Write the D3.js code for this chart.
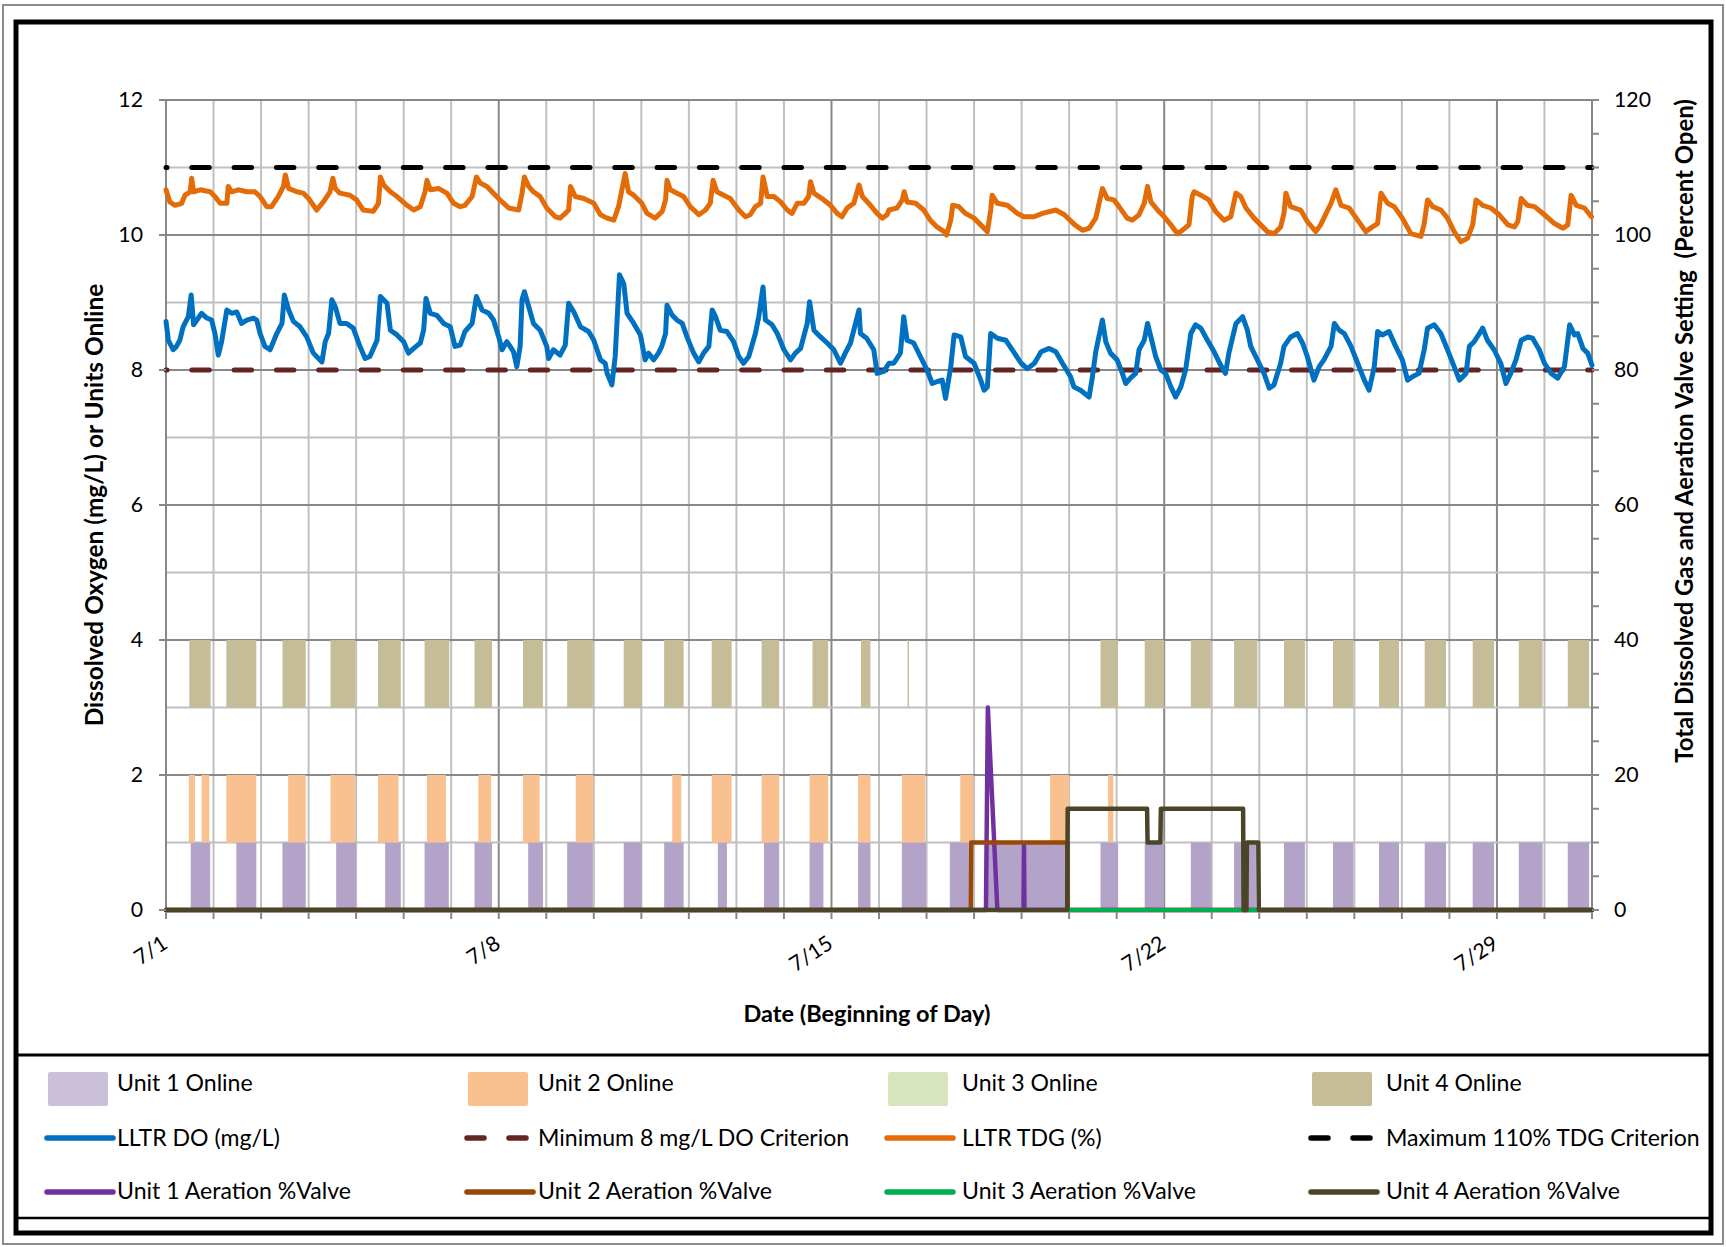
<!DOCTYPE html>
<html><head><meta charset="utf-8">
<script src="https://cdn.jsdelivr.net/npm/d3@7"></script>
<style>
body{margin:0;background:#fff;}
svg{display:block;}
text{font-family:Lato,'Open Sans',sans-serif;fill:#000;}
</style>
</head><body>
<svg id="chart" width="1726" height="1247"></svg>
<script>
// ---------------- DATA ----------------
const dateTickDays = [0, 7, 14, 21, 28];
const dateTickLabels = ["7/1", "7/8", "7/15", "7/22", "7/29"];
const leftTickValues = [0, 2, 4, 6, 8, 10, 12];
const rightTickValues = [0, 20, 40, 60, 80, 100, 120];

// online intervals [start day, end day] (days after 7/1 00:00)
const unit1Online = [[0.52,0.93],[1.48,1.90],[2.45,2.94],[3.58,4.00],[4.61,4.94],[5.44,5.95],[6.49,6.86],[7.62,7.93],[8.44,8.98],[9.63,10.01],[10.48,10.89],[11.61,11.80],[12.58,12.90],[13.54,13.83],[14.56,14.82],[15.48,15.99],[16.49,16.89],[17.24,18.96],[19.66,20.03],[20.59,21.00],[21.56,21.99],[22.47,22.93],[23.52,23.96],[24.55,24.98],[25.52,25.94],[26.48,26.93],[27.49,27.94],[28.46,28.96],[29.49,29.94]];
const unit2Online = [[0.48,0.61],[0.75,0.91],[1.27,1.90],[2.57,2.94],[3.46,3.98],[4.46,4.89],[5.49,5.89],[6.57,6.84],[7.51,7.86],[8.62,8.99],[10.65,10.84],[11.48,11.90],[12.53,12.90],[13.54,13.93],[14.56,14.82],[15.48,15.97],[16.71,16.98],[18.60,19.00],[19.82,19.93]];
const unit3Online = [];
const unit4Online = [[0.49,0.94],[1.27,1.90],[2.45,2.94],[3.46,3.98],[4.46,4.94],[5.44,5.96],[6.49,6.86],[7.51,7.93],[8.44,8.98],[9.63,10.01],[10.48,10.89],[11.48,11.90],[12.53,12.90],[13.60,13.93],[14.62,14.82],[15.60,15.63],[19.66,20.03],[20.59,21.00],[21.56,21.98],[22.47,22.96],[23.52,23.96],[24.55,24.98],[25.52,25.94],[26.48,26.93],[27.49,27.94],[28.46,28.96],[29.49,29.94]];

// LLTR DO (mg/L): [day, value]
const doSeries = [[0,8.72],[0.05,8.44],[0.15,8.30],[0.22,8.35],[0.29,8.44],[0.36,8.64],[0.47,8.79],[0.53,9.11],[0.58,8.67],[0.65,8.74],[0.75,8.84],[0.86,8.77],[0.96,8.74],[1.03,8.54],[1.10,8.22],[1.17,8.42],[1.28,8.89],[1.38,8.84],[1.49,8.86],[1.59,8.69],[1.70,8.74],[1.84,8.77],[1.91,8.74],[1.98,8.54],[2.08,8.35],[2.19,8.30],[2.33,8.54],[2.44,8.69],[2.49,9.11],[2.58,8.89],[2.68,8.72],[2.82,8.64],[2.96,8.49],[3.10,8.25],[3.28,8.12],[3.35,8.42],[3.42,8.54],[3.49,9.04],[3.56,8.94],[3.66,8.69],[3.80,8.69],[3.94,8.62],[4.08,8.35],[4.19,8.17],[4.29,8.20],[4.44,8.44],[4.51,9.09],[4.65,8.99],[4.72,8.59],[4.86,8.52],[5.00,8.42],[5.10,8.25],[5.21,8.32],[5.35,8.40],[5.42,8.59],[5.47,9.06],[5.56,8.84],[5.70,8.81],[5.84,8.69],[5.98,8.64],[6.08,8.35],[6.19,8.37],[6.29,8.57],[6.44,8.69],[6.53,9.09],[6.65,8.89],[6.79,8.84],[6.89,8.74],[7.00,8.49],[7.07,8.30],[7.17,8.42],[7.24,8.35],[7.31,8.27],[7.38,8.05],[7.45,8.35],[7.49,9.04],[7.54,9.16],[7.63,8.94],[7.73,8.69],[7.87,8.59],[8.01,8.35],[8.05,8.17],[8.15,8.30],[8.29,8.22],[8.40,8.37],[8.47,8.99],[8.58,8.86],[8.72,8.64],[8.89,8.57],[9.00,8.44],[9.14,8.15],[9.24,8.10],[9.28,7.95],[9.38,7.78],[9.45,8.20],[9.54,9.41],[9.63,9.28],[9.70,8.84],[9.84,8.69],[9.98,8.52],
[10.08,8.15],[10.15,8.25],[10.26,8.15],[10.36,8.25],[10.43,8.35],[10.51,8.54],[10.54,8.96],[10.65,8.81],[10.75,8.74],[10.86,8.69],[10.96,8.49],[11.10,8.25],[11.21,8.12],[11.31,8.25],[11.42,8.35],[11.49,8.89],[11.56,8.79],[11.66,8.59],[11.80,8.57],[11.94,8.42],[12.05,8.20],[12.15,8.10],[12.26,8.20],[12.40,8.54],[12.47,8.79],[12.56,9.23],[12.61,8.74],[12.75,8.67],[12.86,8.54],[13.00,8.30],[13.14,8.15],[13.24,8.25],[13.35,8.32],[13.49,8.69],[13.54,9.01],[13.63,8.59],[13.77,8.49],[13.91,8.40],[14.05,8.30],[14.19,8.10],[14.29,8.25],[14.40,8.40],[14.47,8.59],[14.58,8.89],[14.61,8.54],[14.74,8.47],[14.89,8.30],[14.96,7.95],[15.10,7.98],[15.21,8.10],[15.31,8.10],[15.45,8.25],[15.52,8.79],[15.59,8.44],[15.73,8.40],[15.87,8.20],[16.01,8.00],[16.12,7.80],[16.23,7.83],[16.33,7.85],[16.40,7.58],[16.51,8.05],[16.58,8.52],[16.72,8.49],[16.82,8.20],[17.00,8.10],[17.14,7.85],[17.21,7.70],[17.28,7.75],[17.35,8.54],[17.49,8.47],[17.67,8.44],[17.85,8.25],[17.99,8.10],[18.12,8.02],[18.27,8.10],[18.41,8.27],[18.58,8.32],[18.72,8.27],[18.86,8.10],[19.03,7.90],[19.10,7.75],[19.24,7.70],[19.42,7.60],[19.49,7.90],[19.56,8.27],[19.70,8.74],[19.77,8.42],[19.87,8.25],
[20.01,8.15],[20.12,7.95],[20.19,7.80],[20.29,7.88],[20.40,7.95],[20.47,8.30],[20.58,8.44],[20.65,8.69],[20.72,8.49],[20.82,8.20],[20.93,8.00],[21.03,7.95],[21.14,7.75],[21.24,7.60],[21.35,7.75],[21.45,8.00],[21.56,8.54],[21.66,8.67],[21.77,8.62],[21.91,8.44],[22.05,8.27],[22.19,8.07],[22.29,7.95],[22.36,8.25],[22.51,8.69],[22.65,8.79],[22.75,8.59],[22.82,8.35],[22.96,8.15],[23.10,7.95],[23.21,7.73],[23.31,7.78],[23.45,8.10],[23.52,8.35],[23.66,8.49],[23.80,8.54],[23.91,8.40],[24.01,8.20],[24.15,7.85],[24.26,8.05],[24.36,8.15],[24.51,8.35],[24.58,8.69],[24.68,8.59],[24.79,8.54],[24.93,8.35],[25.07,8.10],[25.21,7.85],[25.31,7.70],[25.42,8.05],[25.49,8.57],[25.59,8.52],[25.73,8.57],[25.87,8.35],[26.01,8.15],[26.12,7.85],[26.22,7.90],[26.36,7.95],[26.47,8.30],[26.54,8.62],[26.68,8.67],[26.82,8.54],[26.96,8.30],[27.10,8.05],[27.21,7.85],[27.35,7.95],[27.42,8.35],[27.52,8.42],[27.63,8.54],[27.70,8.62],[27.80,8.44],[27.94,8.30],[28.08,8.10],[28.19,7.80],[28.29,7.95],[28.40,8.15],[28.51,8.44],[28.65,8.49],[28.75,8.47],[28.89,8.30],[29.00,8.10],[29.14,7.95],[29.28,7.88],[29.42,8.05],[29.53,8.67],[29.63,8.52],[29.70,8.54],[29.81,8.32],[29.91,8.25],[30.0,8.07]];

// LLTR TDG (%): [day, value]
const tdgSeries = [[0,106.7],[0.08,104.9],[0.19,104.4],[0.33,104.7],[0.40,105.9],[0.51,106.4],[0.54,108.4],[0.58,106.4],[0.72,106.7],[0.93,106.4],[1.03,105.7],[1.14,104.7],[1.28,104.7],[1.31,107.2],[1.38,106.4],[1.52,106.7],[1.70,106.4],[1.87,106.4],[1.98,105.7],[2.12,104.2],[2.22,104.2],[2.36,105.7],[2.47,107.2],[2.51,108.9],[2.58,106.9],[2.75,106.4],[2.89,106.2],[3.00,105.4],[3.17,103.7],[3.31,104.9],[3.45,106.4],[3.51,108.4],[3.56,106.9],[3.66,106.2],[3.87,105.9],[4.01,105.2],[4.15,103.7],[4.36,103.5],[4.47,104.7],[4.51,108.6],[4.58,107.4],[4.72,106.4],[4.86,105.7],[5.07,104.4],[5.21,103.7],[5.35,104.2],[5.45,106.4],[5.49,108.1],[5.56,106.7],[5.73,106.9],[5.91,106.2],[6.05,104.7],[6.19,104.2],[6.29,104.4],[6.44,105.7],[6.53,108.6],[6.61,107.7],[6.75,107.2],[6.93,105.9],[7.07,104.9],[7.21,104.0],[7.42,103.7],[7.49,106.2],[7.54,108.6],[7.63,107.2],[7.73,106.4],[7.87,105.7],[8.01,104.0],[8.19,102.7],[8.29,102.5],[8.40,103.2],[8.47,103.7],[8.51,107.2],[8.61,105.7],[8.79,105.4],[9.00,104.7],[9.14,103.0],[9.28,102.5],[9.42,102.2],[9.52,104.2],[9.66,109.1],[9.73,106.4],[9.84,105.9],[10.01,104.7],
[10.12,103.2],[10.29,102.5],[10.44,103.5],[10.51,105.2],[10.54,108.1],[10.61,106.7],[10.75,106.2],[10.89,105.7],[11.03,104.2],[11.21,103.0],[11.35,103.7],[11.45,104.7],[11.51,108.1],[11.59,106.4],[11.73,105.9],[11.87,105.4],[12.05,103.7],[12.19,102.7],[12.29,103.0],[12.40,104.2],[12.51,104.7],[12.56,108.6],[12.65,105.7],[12.79,105.7],[12.93,104.9],[13.07,103.7],[13.17,103.2],[13.28,104.7],[13.42,104.7],[13.52,105.7],[13.56,107.9],[13.63,106.2],[13.80,105.4],[13.98,104.4],[14.12,103.2],[14.22,102.7],[14.33,104.0],[14.47,104.7],[14.58,107.4],[14.65,105.7],[14.82,104.4],[14.96,103.2],[15.07,102.5],[15.17,103.0],[15.21,103.7],[15.38,104.0],[15.49,105.2],[15.53,106.4],[15.59,104.9],[15.77,104.7],[15.94,103.7],[16.08,102.2],[16.22,101.2],[16.37,100.5],[16.42,100.0],[16.51,102.2],[16.55,104.4],[16.68,104.2],[16.82,103.2],[17.00,102.5],[17.14,101.5],[17.28,100.5],[17.35,103.7],[17.38,105.9],[17.49,104.7],[17.70,104.4],[17.91,103.2],[18.05,102.7],[18.26,102.7],[18.44,103.2],[18.72,103.7],[18.90,103.0],[19.12,101.5],[19.28,100.7],[19.42,101.0],[19.56,102.5],[19.70,106.9],[19.80,105.4],[19.94,105.2],
[20.05,104.2],[20.22,102.5],[20.33,102.2],[20.47,103.0],[20.58,104.7],[20.65,107.2],[20.72,104.9],[20.86,103.7],[21.00,102.7],[21.14,101.5],[21.28,100.2],[21.38,100.7],[21.52,101.5],[21.59,105.7],[21.63,106.4],[21.77,105.9],[21.94,105.2],[22.08,103.5],[22.26,102.2],[22.40,102.7],[22.51,106.2],[22.61,105.7],[22.72,104.0],[22.89,102.5],[23.03,101.5],[23.17,100.5],[23.31,100.2],[23.45,101.2],[23.52,103.2],[23.56,106.2],[23.66,104.2],[23.87,103.7],[24.01,102.0],[24.19,100.5],[24.29,101.5],[24.51,104.7],[24.61,106.7],[24.72,104.4],[24.89,104.0],[25.07,102.2],[25.24,100.5],[25.38,101.2],[25.49,101.7],[25.56,106.2],[25.70,104.7],[25.84,104.2],[26.01,102.5],[26.19,100.2],[26.40,99.8],[26.47,101.7],[26.54,105.2],[26.65,104.2],[26.82,103.7],[26.96,102.5],[27.10,100.5],[27.24,99.0],[27.38,99.5],[27.49,101.5],[27.56,105.2],[27.70,104.4],[27.87,104.0],[28.05,103.0],[28.23,101.5],[28.37,101.2],[28.44,102.0],[28.51,105.4],[28.64,104.4],[28.79,104.2],[29.00,103.0],[29.21,101.7],[29.39,101.0],[29.49,101.5],[29.56,105.9],[29.67,104.4],[29.84,104.0],[29.99,102.7]];

const doCriterion = 8;     // mg/L
const tdgCriterion = 110;  // %

// Aeration valve settings (% open): [day, value]
const unit1Valve = [[0,0],[17.25,0],[17.29,30],[17.49,0],[18.04,0],[18.05,9.5],[18.06,0],[30,0]];
const unit2Valve = [[0,0],[16.93,0],[16.94,10],[18.96,10],[18.97,0],[30,0]];
const unit3Valve = [[18.97,0],[22.98,0]];
const unit4Valve = [[0,0],[18.96,0],[18.97,15],[20.64,15],[20.65,10],[20.92,10],[20.93,15],[22.66,15],[22.67,0],[22.73,0],[22.74,10],[22.98,10],[22.99,0],[30,0]];

const legendNames = ["Unit 1 Online","Unit 2 Online","Unit 3 Online","Unit 4 Online",
  "LLTR DO (mg/L)","Minimum 8 mg/L DO Criterion","LLTR TDG (%)","Maximum 110% TDG Criterion",
  "Unit 1 Aeration %Valve","Unit 2 Aeration %Valve","Unit 3 Aeration %Valve","Unit 4 Aeration %Valve"];

// ---------------- DRAWING ----------------
const svg = d3.select("#chart");
const C = {
  u1:"#B3A3C8", u1L:"#CBC0DA", u2:"#F9C190", u3:"#D7E4BD", u4:"#C4BD97",
  dO:"#0070C0", doCrit:"#632523", tdg:"#E36C09", tdgCrit:"#000000",
  v1:"#7030A0", v2:"#984807", v3:"#00B050", v4:"#4A4529",
  gridMinor:"#C0C0C0", gridMajor:"#888888"
};
const X0 = 166, X1 = 1592, Y0 = 910, Y1 = 100;
const x = d3.scaleLinear().domain([0,30]).range([X0,X1]);
const yL = d3.scaleLinear().domain([0,12]).range([Y0,Y1]);
const yR = d3.scaleLinear().domain([0,120]).range([Y0,Y1]);

function fitSize(str, target, weight){
  const t = svg.append("text").attr("font-size",100).attr("font-weight",weight||"normal").text(str);
  const w = t.node().getComputedTextLength(); t.remove();
  return 100*target/w;
}
const tickFS = fitSize("120", 37);
const legFS = fitSize("Unit 1 Aeration %Valve", 234);
const titleFS = fitSize("Date (Beginning of Day)", 247, "bold");
const leftTitleFS = fitSize("Dissolved Oxygen (mg/L) or Units Online", 443, "bold");
const rightTitleFS = fitSize("Total Dissolved Gas and Aeration Valve Setting  (Percent Open)", 658, "bold");

// borders
svg.append("rect").attr("x",3).attr("y",5).attr("width",1720).attr("height",1239)
  .attr("fill","none").attr("stroke","#8c8c8c").attr("stroke-width",2);
svg.append("rect").attr("x",16).attr("y",22).attr("width",1695).attr("height",1211)
  .attr("fill","#fff").attr("stroke","#000").attr("stroke-width",5);
svg.append("line").attr("x1",16).attr("x2",1711).attr("y1",1055).attr("y2",1055).attr("stroke","#000").attr("stroke-width",3);
svg.append("line").attr("x1",16).attr("x2",1711).attr("y1",1218).attr("y2",1218).attr("stroke","#000").attr("stroke-width",2.5);

// gridlines
const g = svg.append("g");
const days = d3.range(0,31);
g.selectAll(".vg").data(days).join("line")
  .attr("x1",d=>x(d)).attr("x2",d=>x(d)).attr("y1",Y1).attr("y2",Y0)
  .attr("stroke",d=>d%7===0?C.gridMajor:C.gridMinor).attr("stroke-width",2);
g.selectAll(".hg").data(d3.range(0,13)).join("line")
  .attr("x1",X0).attr("x2",X1).attr("y1",d=>yL(d)).attr("y2",d=>yL(d))
  .attr("stroke",d=>d%2===0?C.gridMajor:C.gridMinor).attr("stroke-width",2);

// online bars
function bars(data, lo, hi, color){
  svg.append("g").selectAll("rect").data(data).join("rect")
    .attr("x",d=>x(d[0])).attr("width",d=>Math.max(1,x(d[1])-x(d[0])))
    .attr("y",yL(hi)).attr("height",yL(lo)-yL(hi)).attr("fill",color);
}
bars(unit1Online,0,1,C.u1);
bars(unit2Online,1,2,C.u2);
bars(unit3Online,2,3,C.u3);
bars(unit4Online,3,4,C.u4);

// axes lines
svg.append("line").attr("x1",X0).attr("x2",X0).attr("y1",Y1).attr("y2",Y0).attr("stroke",C.gridMajor).attr("stroke-width",2);
svg.append("line").attr("x1",X1).attr("x2",X1).attr("y1",Y1).attr("y2",Y0).attr("stroke",C.gridMajor).attr("stroke-width",2);

// criteria
const dashArr = "17.5,24.8";
svg.append("line").attr("x1",X0).attr("x2",X1).attr("y1",yL(doCriterion)).attr("y2",yL(doCriterion))
  .attr("stroke",C.doCrit).attr("stroke-width",5).attr("stroke-linecap","round")
  .attr("stroke-dasharray",dashArr).attr("stroke-dashoffset",16.5);
svg.append("line").attr("x1",X0).attr("x2",X1).attr("y1",yR(tdgCriterion)).attr("y2",yR(tdgCriterion))
  .attr("stroke",C.tdgCrit).attr("stroke-width",5).attr("stroke-linecap","round")
  .attr("stroke-dasharray",dashArr).attr("stroke-dashoffset",16.5);

// series lines
const lineL = d3.line().x(d=>x(d[0])).y(d=>yL(d[1]));
const lineR = d3.line().x(d=>x(d[0])).y(d=>yR(d[1]));
function path(data, gen, color, w){
  svg.append("path").datum(data).attr("d",gen).attr("fill","none").attr("stroke",color)
    .attr("stroke-width",w).attr("stroke-linejoin","round").attr("stroke-linecap","round");
}
path(doSeries, lineL, C.dO, 5);
path(tdgSeries, lineR, C.tdg, 5);
path(unit1Valve, lineR, C.v1, 4.5);
path(unit2Valve, lineR, C.v2, 4.5);
path(unit3Valve, lineR, C.v3, 4);
path(unit4Valve, lineR, C.v4, 4.5);

// ticks
svg.append("g").selectAll("line").data(days).join("line")
  .attr("x1",d=>x(d)).attr("x2",d=>x(d)).attr("y1",Y0+2).attr("y2",Y0+9)
  .attr("stroke",C.gridMajor).attr("stroke-width",2);
svg.append("g").selectAll("line").data(leftTickValues).join("line")
  .attr("x1",X0-7).attr("x2",X0).attr("y1",d=>yL(d)).attr("y2",d=>yL(d))
  .attr("stroke",C.gridMajor).attr("stroke-width",2);
svg.append("g").selectAll("line").data(d3.range(0,121,5)).join("line")
  .attr("x1",X1).attr("x2",X1+7).attr("y1",d=>yR(d)).attr("y2",d=>yR(d))
  .attr("stroke",C.gridMajor).attr("stroke-width",2);

// tick labels
svg.append("g").selectAll("text").data(leftTickValues).join("text")
  .attr("x",143).attr("y",d=>yL(d)).attr("dy","0.35em").attr("text-anchor","end")
  .attr("font-size",tickFS).text(d=>d);
svg.append("g").selectAll("text").data(rightTickValues).join("text")
  .attr("x",1614).attr("y",d=>yR(d)).attr("dy","0.35em").attr("text-anchor","start")
  .attr("font-size",tickFS).text(d=>d);
svg.append("g").selectAll("text").data(dateTickDays).join("text")
  .attr("transform",d=>`translate(${x(d)+3},947) rotate(-33)`)
  .attr("text-anchor","end").attr("font-size",tickFS)
  .text((d,i)=>dateTickLabels[i]);

// axis titles
svg.append("text").attr("x",867).attr("y",1022).attr("text-anchor","middle")
  .attr("font-weight","bold").attr("font-size",titleFS).text("Date (Beginning of Day)");
svg.append("text").attr("transform","translate(103,505) rotate(-90)").attr("text-anchor","middle")
  .attr("font-weight","bold").attr("font-size",leftTitleFS).text("Dissolved Oxygen (mg/L) or Units Online");
svg.append("text").attr("transform","translate(1693,431) rotate(-90)").attr("text-anchor","middle")
  .attr("font-weight","bold").attr("font-size",rightTitleFS).style("white-space","pre")
  .text("Total Dissolved Gas and Aeration Valve Setting  (Percent Open)");

// legend
const legStyles = [
  {t:"rect",c:C.u1L},{t:"rect",c:C.u2},{t:"rect",c:C.u3},{t:"rect",c:C.u4},
  {t:"line",c:C.dO},{t:"dash",c:C.doCrit},{t:"line",c:C.tdg},{t:"dash",c:C.tdgCrit},
  {t:"line",c:C.v1},{t:"line",c:C.v2},{t:"line",c:C.v3},{t:"line",c:C.v4}
];
const colSw = [47, 467, 887, 1311];
const colTx = [117, 538, 962, 1386];
const rowBase = [1091, 1146, 1199];
const rowLine = [1090, 1138, 1192];
const lg = svg.append("g");
legendNames.forEach((name,i)=>{
  const col = i%4, row = Math.floor(i/4), st = legStyles[i];
  if(st.t==="rect"){
    lg.append("rect").attr("x",colSw[col]+1).attr("y",1072).attr("width",60).attr("height",34)
      .attr("rx",2).attr("fill",st.c);
  } else {
    const ln = lg.append("line").attr("x1",colSw[col]).attr("x2",colSw[col]+66)
      .attr("y1",rowLine[row]).attr("y2",rowLine[row]).attr("stroke",st.c)
      .attr("stroke-width",5.5).attr("stroke-linecap","round");
    if(st.t==="dash") ln.attr("stroke-dasharray","17,25");
  }
  lg.append("text").attr("x",colTx[col]).attr("y",rowBase[row]).attr("font-size",legFS).text(name);
});
</script>
</body></html>
